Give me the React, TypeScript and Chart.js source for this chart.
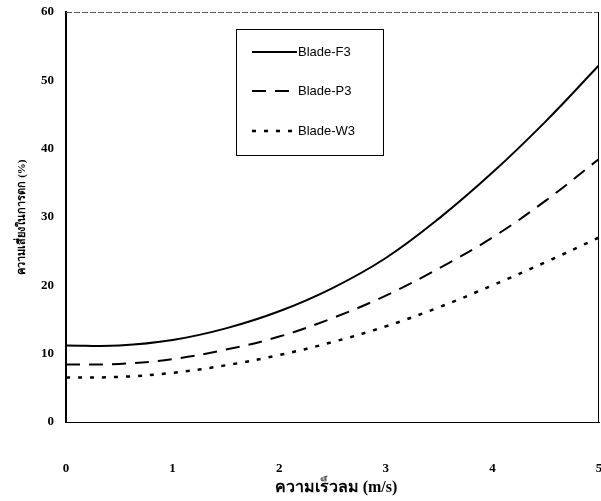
import React, { useEffect, useRef } from "react";
import { Chart, registerables } from "chart.js";

Chart.register(...registerables);

const windSpeed = [0, 0.5, 1, 1.5, 2, 2.5, 3, 3.5, 4, 4.5, 5];
const bladeF3 = [11.2, 11.2, 12.0, 13.7, 16.2, 19.6, 24.0, 29.8, 36.5, 44.0, 52.2];
const bladeP3 = [8.4, 8.5, 9.2, 10.6, 12.5, 15.2, 18.5, 22.5, 27.0, 32.4, 38.5];
const bladeW3 = [6.5, 6.6, 7.2, 8.3, 9.8, 11.7, 14.0, 16.8, 20.0, 23.4, 27.0];
const seriesNames = ["Blade-F3", "Blade-P3", "Blade-W3"];
const xTitle = "ความเร็วลม (m/s)";
const yTitle = "ความเสี่ยงในการตก (%)";

const toPoints = (ys: number[]) => ys.map((y, i) => ({ x: windSpeed[i], y }));

const framePlugin = {
  id: "frameAndLegend",
  afterDraw(chart: any) {
    const { ctx, chartArea } = chart;
    const { left, right, top, bottom } = chartArea;
    ctx.save();
    // top border (faint dashed)
    ctx.strokeStyle = "#555";
    ctx.lineWidth = 1;
    ctx.setLineDash([6, 2]);
    ctx.beginPath();
    ctx.moveTo(left, top + 0.5);
    ctx.lineTo(right, top + 0.5);
    ctx.stroke();
    ctx.setLineDash([]);
    // right border
    ctx.strokeStyle = "#000";
    ctx.beginPath();
    ctx.moveTo(right - 0.5, top);
    ctx.lineTo(right - 0.5, bottom);
    ctx.stroke();

    // legend box
    const bx = 236, by = 29, bw = 147, bh = 126;
    ctx.strokeStyle = "#000";
    ctx.lineWidth = 1;
    ctx.strokeRect(bx + 0.5, by + 0.5, bw, bh);
    const rows = [52, 91, 131];
    ctx.font = "13px 'Liberation Sans', Arial, sans-serif";
    ctx.textBaseline = "middle";
    ctx.fillStyle = "#000";
    chart.data.datasets.forEach((ds: any, i: number) => {
      const y = rows[i];
      ctx.lineWidth = ds.borderWidth;
      ctx.setLineDash(ds.borderDash || []);
      ctx.beginPath();
      ctx.moveTo(252, y);
      ctx.lineTo(297, y);
      ctx.stroke();
      ctx.setLineDash([]);
      ctx.textAlign = "left";
      ctx.fillText(ds.label, 298, y);
    });

    // axis titles
    ctx.font = "bold 16px 'Liberation Serif', 'Times New Roman', serif";
    ctx.textAlign = "center";
    ctx.textBaseline = "middle";
    ctx.fillText(xTitle, 336, 488);
    ctx.translate(22, 217);
    ctx.rotate(-Math.PI / 2);
    ctx.font = "bold 11px 'Liberation Serif', 'Times New Roman', serif";
    ctx.fillText(yTitle, 0, 0);
    ctx.restore();
  },
};

export default function App() {
  const ref = useRef<HTMLCanvasElement | null>(null);
  useEffect(() => {
    if (!ref.current) return;
    const tickFont = { family: "'Liberation Serif', 'Times New Roman', serif", size: 13, weight: "bold" as const };
    const chart = new Chart(ref.current, {
      type: "line",
      data: {
        datasets: [
          { label: seriesNames[0], data: toPoints(bladeF3), borderColor: "#000", borderWidth: 2, pointRadius: 0, tension: 0.4, fill: false },
          { label: seriesNames[1], data: toPoints(bladeP3), borderColor: "#000", borderWidth: 2, borderDash: [14, 9], pointRadius: 0, tension: 0.4, fill: false },
          { label: seriesNames[2], data: toPoints(bladeW3), borderColor: "#000", borderWidth: 2.5, borderDash: [4, 8], pointRadius: 0, tension: 0.4, fill: false },
        ],
      },
      options: {
        animation: false,
        responsive: false,
        maintainAspectRatio: false,
        layout: { padding: { top: 12, right: 0, left: 0, bottom: 0 } },
        plugins: { legend: { display: false }, tooltip: { enabled: false } },
        scales: {
          x: {
            type: "linear",
            min: 0,
            max: 5,
            ticks: { stepSize: 1, color: "#000", font: tickFont, padding: 34 },
            grid: { display: false, drawTicks: true, tickLength: 5, color: "#000" },
            border: { display: true, color: "#000", width: 1 },
            afterFit: (s: any) => { s.height = 79; s.paddingRight = 2; s.paddingLeft = 0; },
          },
          y: {
            min: 0,
            max: 60,
            ticks: { stepSize: 10, color: "#000", font: tickFont, padding: 4 },
            grid: { display: false, drawTicks: true, tickLength: 8, color: "#000" },
            border: { display: true, color: "#000", width: 2 },
            afterFit: (s: any) => { s.width = 66; },
          },
        },
      },
      plugins: [framePlugin],
    });
    return () => chart.destroy();
  }, []);
  return (
    <div style={{ position: "fixed", left: 0, top: 0, width: 601, height: 501, background: "#fff" }}>
      <canvas ref={ref} width={601} height={501} style={{ width: 601, height: 501 }} />
    </div>
  );
}
